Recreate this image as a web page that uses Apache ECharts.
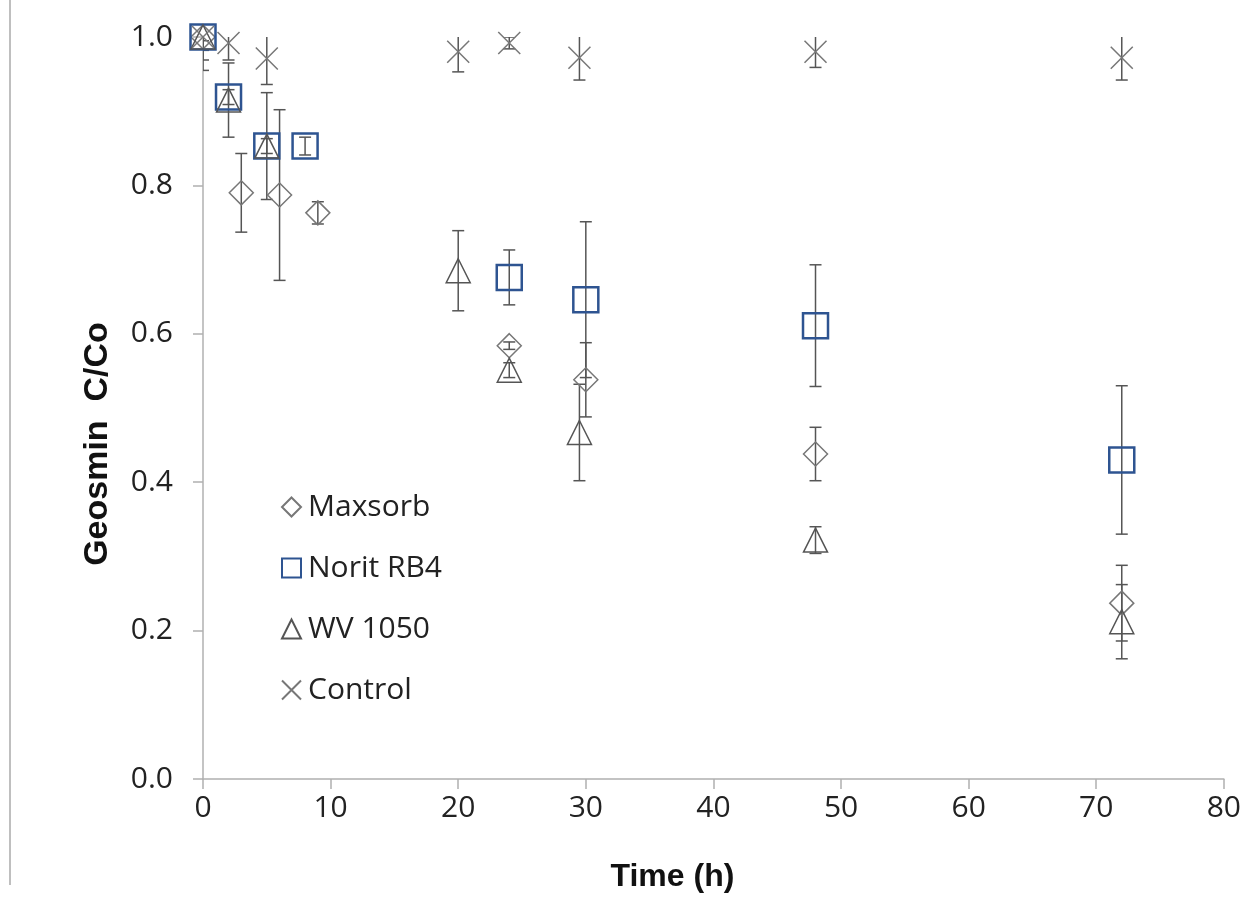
<!DOCTYPE html>
<html>
<head>
<meta charset="utf-8">
<script src="https://cdn.jsdelivr.net/npm/echarts@6/dist/echarts.min.js"></script>
<style>
html,body{margin:0;padding:0;background:#fff;}
#chart{width:1244px;height:907px;}
</style>
</head>
<body>
<div id="chart"></div>
<script>
// data: time (h), C/Co, error (+/-)
var maxsorbT=[0,3,6,9,24,30,48,72];
var maxsorbC=[1.0,0.79,0.787,0.763,0.584,0.538,0.438,0.237];
var maxsorbErr=[0.018,0.053,0.115,0.015,0.005,0.05,0.036,0.051];

var noritT=[0,2,5,8,24,30,48,72];
var noritC=[1.0,0.919,0.853,0.853,0.676,0.646,0.611,0.43];
var noritErr=[0.005,0.01,0.01,0.012,0.037,0.105,0.082,0.1];

var wvT=[0,2,5,20,24,29.5,48,72];
var wvC=[1.0,0.915,0.853,0.685,0.551,0.467,0.322,0.212];
var wvErr=[0.031,0.05,0.072,0.054,0.01,0.065,0.018,0.05];

var controlT=[0,2,5,20,24,29.5,48,72];
var controlC=[1.0,0.992,0.971,0.98,0.992,0.972,0.98,0.972];
var controlErr=[0.045,0.023,0.035,0.027,0.008,0.03,0.021,0.03];

var names=['Maxsorb','Norit RB4','WV 1050','Control'];

var tickFont='"Open Sans", sans-serif';

function pts(t,c,e){
    var arr=[];
    for(var i=0;i<t.length;i++){
        arr.push([t[i],c[i],e[i]]);
    }
    return arr;
}

// 误差线 (clipped to the plot area like Excel)
function errSeries(data){
    return {
        type:'custom',
        silent:true,
        clip:true,
        z:1,
        data:data,
        encode:{x:0,y:1},
        renderItem:function(params,api){
            var x=api.value(0),y=api.value(1),e=api.value(2);
            var top=api.coord([x,y+e]);
            var bot=api.coord([x,y-e]);
            var w=6;
            var st={stroke:'#555',lineWidth:1.5};
            return {type:'group',children:[
                {type:'line',shape:{x1:top[0],y1:top[1],x2:bot[0],y2:bot[1]},style:st},
                {type:'line',shape:{x1:top[0]-w,y1:top[1],x2:top[0]+w,y2:top[1]},style:st},
                {type:'line',shape:{x1:bot[0]-w,y1:bot[1],x2:bot[0]+w,y2:bot[1]},style:st}
            ]};
        }
    };
}

function markSeries(name,data,symbol,size,color,bw){
    return {
        name:name,
        type:'scatter',
        z:3,
        data:data,
        symbol:symbol,
        symbolSize:size,
        itemStyle:{color:'rgba(0,0,0,0)',borderColor:color,borderWidth:bw,opacity:1},
        emphasis:{disabled:true}
    };
}

var dMax=pts(maxsorbT,maxsorbC,maxsorbErr);
var dNor=pts(noritT,noritC,noritErr);
var dWv=pts(wvT,wvC,wvErr);
var dCon=pts(controlT,controlC,controlErr);

var xSym='path://M0,0L20,20M20,0L0,20';

var myChart=echarts.init(document.getElementById('chart'));

var option={
    backgroundColor:'#fff',
    animation:false,
    grid:{left:203,right:20,top:37,bottom:128,containLabel:false},
    legend:{
        data:names,
        orient:'vertical',
        left:276,
        top:487,
        itemGap:31,
        itemWidth:19,
        itemHeight:19,
        textStyle:{fontFamily:tickFont,fontSize:30,color:'#222',padding:[0,0,0,2]}
    },
    xAxis:{
        type:'value',
        min:0,max:80,interval:10,
        name:'Time (h)',
        nameLocation:'middle',
        nameGap:82,
        nameTextStyle:{fontFamily:'"Liberation Sans", Arial, sans-serif',fontWeight:'bold',fontSize:32,color:'#111',padding:[0,82,0,0]},
        axisLine:{lineStyle:{color:'#b0b0b0',width:1.5}},
        axisTick:{show:true,length:10,lineStyle:{color:'#b0b0b0',width:1.5}},
        axisLabel:{fontFamily:tickFont,fontSize:30,color:'#222',margin:14},
        splitLine:{show:false}
    },
    yAxis:{
        type:'value',
        min:0,max:1,interval:0.2,
        name:'Geosmin  C/Co',
        nameLocation:'middle',
        nameGap:88,
        nameTextStyle:{fontFamily:'"Liberation Sans", Arial, sans-serif',fontWeight:'bold',fontSize:34,color:'#111',padding:[0,72,0,0]},
        axisLine:{show:true,lineStyle:{color:'#b0b0b0',width:1.5}},
        axisTick:{show:true,length:10,lineStyle:{color:'#b0b0b0',width:1.5}},
        axisLabel:{fontFamily:tickFont,fontSize:30,color:'#222',margin:30,
            formatter:function(v){return v.toFixed(1);}},
        splitLine:{show:false}
    },
    graphic:[{
        type:'line',
        shape:{x1:10,y1:0,x2:10,y2:885},
        style:{stroke:'#aaa',lineWidth:1.5}
    }],
    series:[
        errSeries(dMax),
        errSeries(dNor),
        errSeries(dWv),
        errSeries(dCon),
        markSeries(names[0],dMax,'diamond',[24,24],'#777',1.5),
        markSeries(names[1],dNor,'rect',25,'#2e5491',2.5),
        markSeries(names[2],dWv,'triangle',[24,24],'#555',1.5),
        markSeries(names[3],dCon,xSym,22,'#777',1.5)
    ]
};

myChart.setOption(option);
</script>
</body>
</html>
